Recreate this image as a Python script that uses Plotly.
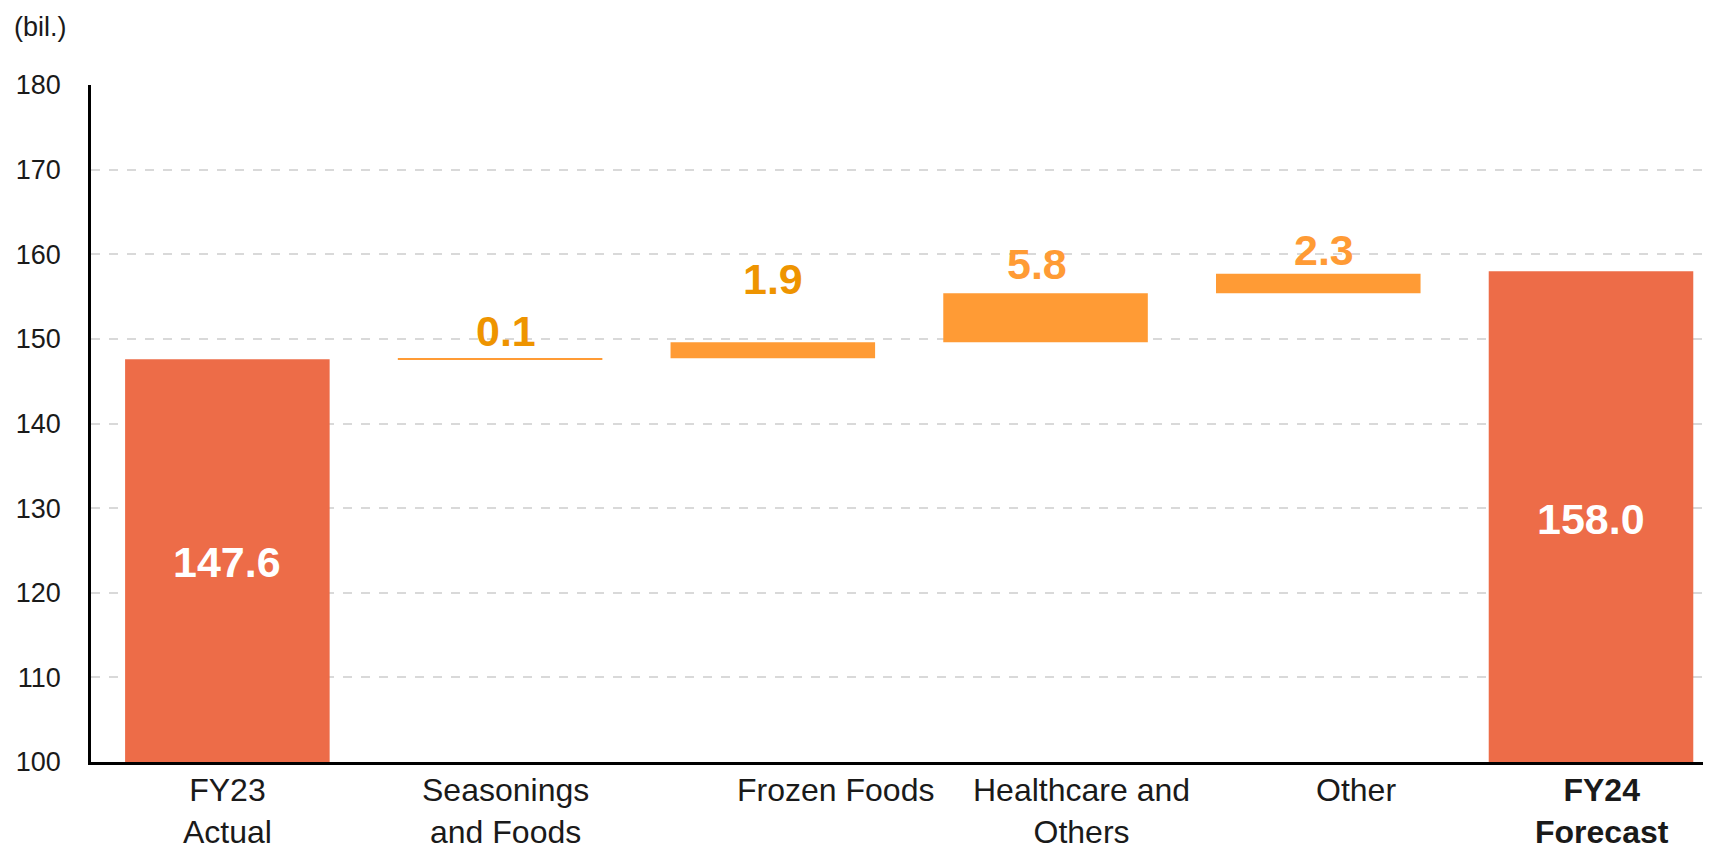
import plotly.graph_objects as go

categories = ["FY23 Actual", "Seasonings and Foods", "Frozen Foods", "Healthcare and Others", "Other", "FY24 Forecast"]
tick_labels = ["FY23<br>Actual", "Seasonings<br>and Foods", "Frozen Foods", "Healthcare and<br>Others", "Other", "<b>FY24<br>Forecast</b>"]
measures = ["absolute", "relative", "relative", "relative", "relative", "absolute"]
values = [147.6, 0.1, 1.9, 5.8, 2.3, 158.0]
value_text = ["147.6", "0.1", "1.9", "5.8", "2.3", "158.0"]
# label placement (data units)
label_y = [123.6, 150.9, 157.1, 158.8, 160.5, 128.7]
label_dx = [0.0, 0.02, 0.0, -0.03, 0.02, 0.0]
tick_dx = [0.0, 0.02, 0.23, 0.13, 0.14, 0.04]

TOTAL = "#ED6C48"
INC = "#FF9B35"
label_colors = ["#FFFFFF", "#EE9400", "#EE9400", "#FF9B35", "#FF9B35", "#FFFFFF"]
FONT = "Arial, 'Liberation Sans', sans-serif"

fig = go.Figure(go.Waterfall(
    x=categories,
    y=values,
    measure=measures,
    increasing=dict(marker=dict(color=INC)),
    decreasing=dict(marker=dict(color=INC)),
    totals=dict(marker=dict(color=TOTAL)),
    connector=dict(visible=False),
    textposition="none",
    hoverinfo="skip",
))

annotations = []
for i, cat in enumerate(categories):
    annotations.append(dict(
        x=i + label_dx[i], y=label_y[i], xref="x", yref="y",
        text=f"<b>{value_text[i]}</b>", showarrow=False,
        font=dict(family=FONT, size=43, color=label_colors[i]),
        xanchor="center", yanchor="middle",
    ))
    annotations.append(dict(
        x=i + tick_dx[i], y=0, xref="x", yref="paper",
        text=tick_labels[i], showarrow=False,
        font=dict(family=FONT, size=32, color="#1a1a1a"),
        xanchor="center", yanchor="top", yshift=-8,
    ))
annotations.append(dict(
    x=0, y=1, xref="paper", yref="paper", xshift=-79, yshift=58,
    text="(bil.)", showarrow=False,
    font=dict(family=FONT, size=27, color="#1a1a1a"),
    xanchor="left", yanchor="middle",
))

fig.update_layout(
    width=1703, height=841,
    margin=dict(l=83, r=0, t=77, b=87),
    paper_bgcolor="white", plot_bgcolor="white",
    showlegend=False,
    waterfallgap=0.25,
    annotations=annotations,
    font=dict(family=FONT),
)
fig.update_xaxes(
    type="category", range=[-0.5, 5.44],
    showline=True, linecolor="black", linewidth=2.5,
    showticklabels=False, ticks="", showgrid=False, zeroline=False,
)
fig.update_yaxes(
    range=[100, 180], dtick=10, tick0=100,
    showgrid=True, gridcolor="#D9D9D9", gridwidth=1.5, griddash="dash",
    showline=True, linecolor="black", linewidth=2.5,
    ticks="", ticklabelstandoff=22, zeroline=False,
    tickfont=dict(family=FONT, size=27, color="#1a1a1a"),
)

fig.write_html("out.html")
